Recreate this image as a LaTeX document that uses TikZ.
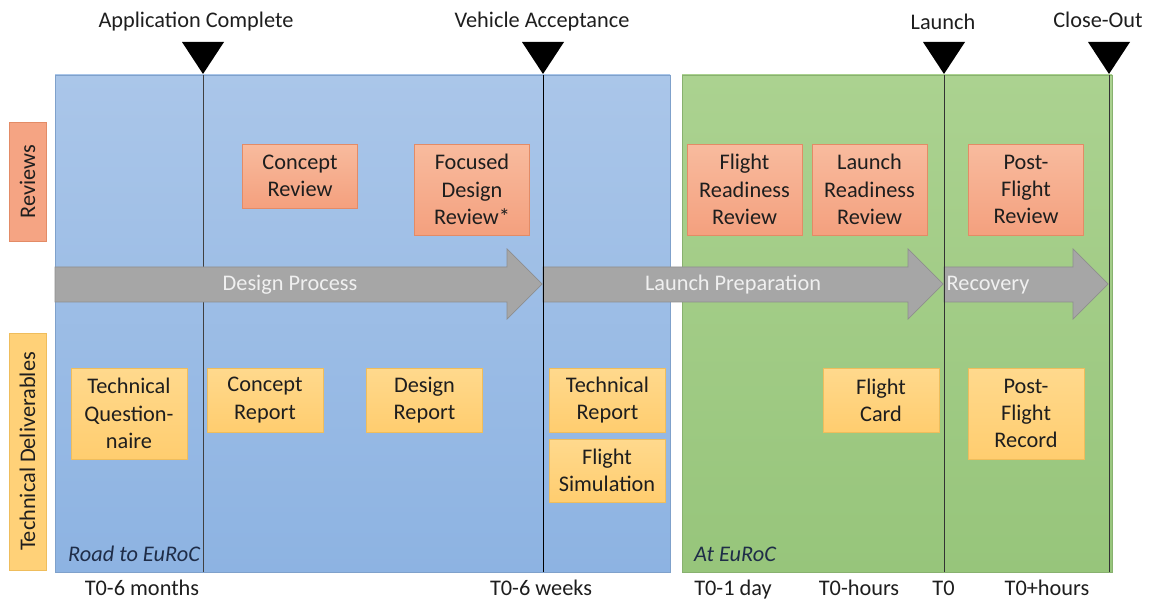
\documentclass[tikz,border=0pt]{standalone}
\usepackage{fontspec}
\setmainfont{Carlito}
\usetikzlibrary{calc}
\definecolor{BlueTop}{HTML}{AAC6E9}
\definecolor{BlueBot}{HTML}{8DB3E2}
\definecolor{GreenTop}{HTML}{ABD290}
\definecolor{GreenBot}{HTML}{97C57B}
\definecolor{RevTop}{HTML}{F8BB9E}
\definecolor{RevBot}{HTML}{F4A07E}
\definecolor{RevLine}{HTML}{E38B66}
\definecolor{DelTop}{HTML}{FFD98D}
\definecolor{DelBot}{HTML}{FFCD6F}
\definecolor{DelLine}{HTML}{EFBD5C}
\definecolor{ArrGray}{HTML}{A6A6A6}
\definecolor{ArrLine}{HTML}{8E8E8E}
\definecolor{TxtDark}{HTML}{1E1E1E}
\definecolor{EuNavy}{HTML}{1F2D48}
\tikzset{
    review/.style = {draw=RevLine, top color=RevTop, bottom color=RevBot,
        text=TxtDark, align=center, inner sep=0pt, minimum width=2.3cm},
    deliv/.style = {draw=DelLine, top color=DelTop, bottom color=DelBot,
        text=TxtDark, align=center, inner sep=0pt, minimum width=2.32cm},
    twoline/.style = {minimum height=1.28cm},
    threeline/.style = {minimum height=1.82cm},
    rowlabel/.style = {rotate=90, text=TxtDark, inner sep=0pt, minimum height=0.74cm},
    phasetext/.style = {text=white!94!black, anchor=base},
    ticktext/.style = {text=TxtDark, anchor=base},
    placetext/.style = {text=EuNavy, anchor=base west, font=\fontsize{12.7}{15.5}\selectfont\itshape},
    gatearrow/.style = {fill=ArrGray, draw=ArrLine, line width=0.4pt},
    gateline/.style = {draw=black, line width=0.5pt}
}

\begin{document}
\begin{tikzpicture}[x=0.02cm,y=-0.02cm,font=\fontsize{12.7}{15.5}\selectfont]
    \useasboundingbox (0,0) rectangle (1150,601);
    % panels
    \shade[top color=BlueTop, bottom color=BlueBot, draw=BlueBot!90!black, line width=0.3pt] (55,75) rectangle (670,572);
    \shade[top color=GreenTop, bottom color=GreenBot, draw=GreenBot!90!black, line width=0.3pt] (682,75) rectangle (1112,572);
    \node[placetext] (road) at (62,561) {Road to EuRoC};
    \node[placetext] (ateu) at (688,561) {At EuRoC};
    % milestone lines
    \coordinate (acTop) at (203,75);   \coordinate (acBot) at (203,572);
    \coordinate (vaTop) at (543,75);   \coordinate (vaBot) at (543,572);
    \coordinate (laTop) at (944,75);   \coordinate (laBot) at (944,572);
    \coordinate (coTop) at (1109,75);  \coordinate (coBot) at (1109,572);
    \draw[gateline, draw=black!75] (acTop) -- (acBot);
    % process arrows
    \filldraw[gatearrow] (55,267) -- (507,267) -- (507,249) -- (542,284) -- (507,319) -- (507,302) -- (55,302) -- cycle;
    \filldraw[gatearrow] (543,267) -- (908,267) -- (908,249) -- (943,284) -- (908,319) -- (908,302) -- (543,302) -- cycle;
    \filldraw[gatearrow] (944,267) -- (1073,267) -- (1073,249) -- (1108,284) -- (1073,319) -- (1073,302) -- (944,302) -- cycle;
    \node[phasetext] (design) at (290,291) {Design Process};
    \node[phasetext] (launchprep) at (733,291) {Launch Preparation};
    \node[phasetext] (recovery) at (988,291) {Recovery};
    \draw[gateline] (vaTop) -- (vaBot);
    \draw[gateline, draw=black!80] (laTop) -- (laBot);
    \draw[gateline, draw=black!80] (coTop) -- (coBot);
    \foreach \mx in {203,543,944,1109}
        \fill[black] (\mx-21,42) -- (\mx+21,42) -- (\mx,74) -- cycle;
    \node[ticktext] (appcomp) at (196,28) {Application Complete};
    \node[ticktext] (vehacc) at (542,28) {Vehicle Acceptance};
    \node[ticktext] (launch) at (943,30) {Launch};
    \node[ticktext] (closeout) at (1098,28) {Close-Out};
    % row labels
    \node[rowlabel, fill=RevBot!85!RevTop, draw=RevLine, minimum width=2.38cm] (revlab) at (27.5,181.5) {Reviews};
    \node[rowlabel, fill=DelBot!70!DelTop, draw=DelLine, minimum width=4.74cm] (dellab) at (27.5,451.5) {Technical Deliverables};
    % reviews
    \node[review, twoline] (concrev) at (300,176) {Concept\\Review};
    \node[review, threeline] (focrev) at (472,189.5) {Focused\\Design\\Review*};
    \node[review, threeline] (frrev) at (744.5,189.5) {Flight\\Readiness\\Review};
    \node[review, threeline] (lrrev) at (869.5,189.5) {Launch\\Readiness\\Review};
    \node[review, threeline] (pfrev) at (1026,189.5) {Post-\\Flight\\Review};
    % deliverables
    \node[deliv, threeline] (techq) at (129,413.5) {Technical\\Question-\\naire};
    \node[deliv, twoline] (concrep) at (265,400) {Concept\\Report};
    \node[deliv, twoline] (desrep) at (424.5,400) {Design\\Report};
    \node[deliv, twoline] (techrep) at (607.5,400) {Technical\\Report};
    \node[deliv, minimum height=1.26cm] (flsim) at (607,470.5) {Flight\\Simulation};
    \node[deliv, twoline] (flcard) at (881,400) {Flight\\Card};
    \node[deliv, threeline] (pfrec) at (1026,413.5) {Post-\\Flight\\Record};
    % time marks
    \node[ticktext] (tsixm) at (142,595) {T0-6 months};
    \node[ticktext] (tsixw) at (541,595) {T0-6 weeks};
    \node[ticktext] (tday) at (733,595) {T0-1 day};
    \node[ticktext] (thrs) at (859,595) {T0-hours};
    \node[ticktext] (tzero) at (943.5,595) {T0};
    \node[ticktext] (tplus) at (1047,595) {T0+hours};
\end{tikzpicture}
\end{document}
